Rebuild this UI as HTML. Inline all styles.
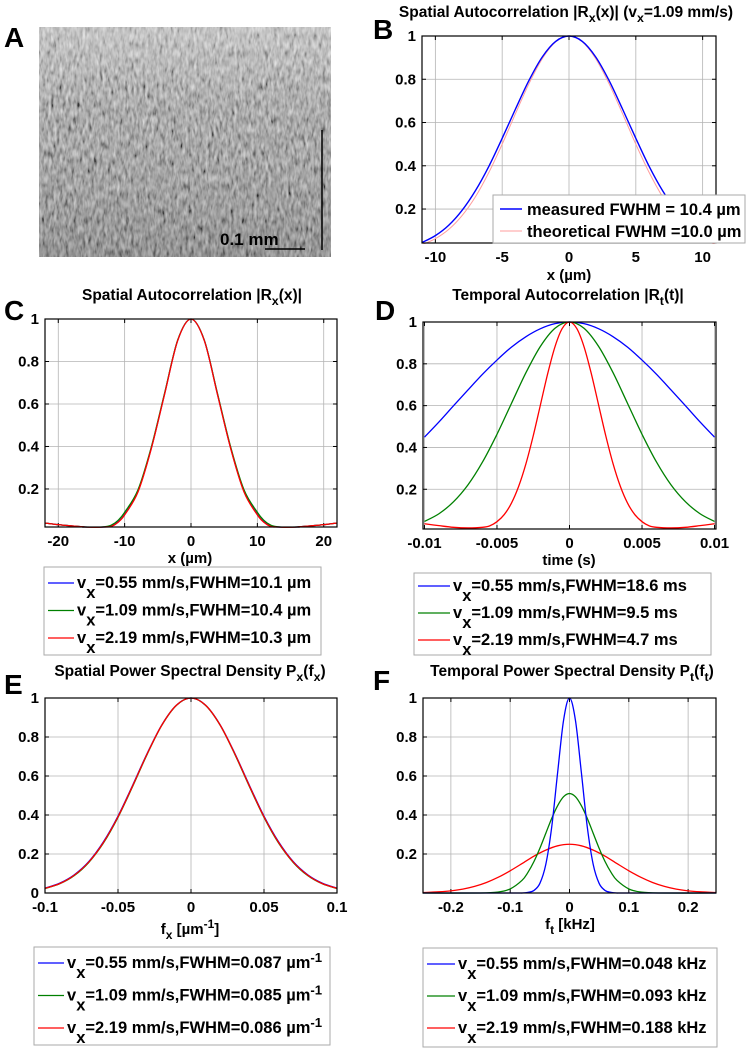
<!DOCTYPE html>
<html><head><meta charset="utf-8">
<style>
html,body{margin:0;padding:0;background:#fff;}
svg{display:block;font-family:"Liberation Sans",Arial,sans-serif;}
.tk{font-size:15px;font-weight:bold;fill:#000;}
.tt{font-size:15.5px;font-weight:bold;fill:#000;}
.lg{font-size:16.5px;font-weight:bold;fill:#000;}
.pl{font-size:28px;font-weight:bold;fill:#000;}
</style></head>
<body>
<svg id="fig" width="750" height="1050" viewBox="0 0 750 1050" xmlns="http://www.w3.org/2000/svg">
<defs>
<filter id="speck" x="0" y="0" width="100%" height="100%">
<feTurbulence type="fractalNoise" baseFrequency="0.35 0.12" numOctaves="2" seed="7" result="n"/>
<feColorMatrix type="matrix" values="0.33 0.33 0.33 0 0  0.33 0.33 0.33 0 0  0.33 0.33 0.33 0 0  0 0 0 0 1" result="g"/>
<feComponentTransfer><feFuncR type="linear" slope="2.2" intercept="-0.6"/><feFuncG type="linear" slope="2.2" intercept="-0.6"/><feFuncB type="linear" slope="2.2" intercept="-0.6"/></feComponentTransfer>
</filter>
<linearGradient id="fade" x1="0" y1="0" x2="0" y2="1">
<stop offset="0" stop-color="#fff" stop-opacity="0.35"/>
<stop offset="0.35" stop-color="#fff" stop-opacity="0.06"/>
<stop offset="1" stop-color="#000" stop-opacity="0.12"/>
</linearGradient>
</defs>
<g>
<rect x="39" y="27" width="292" height="230" fill="#7a7a7a"/>
<rect x="39" y="27" width="292" height="230" filter="url(#speck)" opacity="0.7"/>
<rect x="39" y="27" width="292" height="230" fill="url(#fade)"/>
<line x1="322" y1="130" x2="322" y2="250" stroke="#000" stroke-width="1.5"/>
<line x1="265" y1="249" x2="305" y2="249" stroke="#000" stroke-width="1.5"/>
<text x="220" y="245" style="font-size:17px;font-weight:bold">0.1 mm</text>
</g>
<text class="pl" x="4" y="47">A</text>
<text class="pl" x="373" y="39">B</text>
<text class="pl" x="4" y="320">C</text>
<text class="pl" x="375" y="320">D</text>
<text class="pl" x="4" y="694">E</text>
<text class="pl" x="373" y="690">F</text>
</svg>
<script>
// ---- Panel B data ----
const bX = [-11,-10,-9,-8,-7,-6,-5,-4,-3,-2,-1,0,1,2,3,4,5,6,7,8,9,10,11];
const bMeasured = [0.045,0.077,0.125,0.194,0.285,0.397,0.527,0.663,0.794,0.903,0.975,1,0.975,0.903,0.794,0.663,0.527,0.397,0.285,0.194,0.125,0.077,0.045];
const bTheory = [0.035,0.063,0.106,0.170,0.257,0.369,0.500,0.642,0.779,0.895,0.973,1,0.973,0.895,0.779,0.642,0.500,0.369,0.257,0.170,0.106,0.063,0.035];
// ---- Panel C data ----
const cX = [-22,-20,-18,-16,-14,-13,-12,-11,-10,-8,-6,-4,-2,0,2,4,6,8,10,11,12,13,14,16,18,20,22];
const cBlue = [0.040,0.032,0.026,0.021,0.020,0.021,0.025,0.045,0.080,0.188,0.390,0.645,0.900,1,0.900,0.645,0.390,0.188,0.080,0.045,0.025,0.021,0.020,0.021,0.026,0.032,0.040];
const cGreen = [0.040,0.032,0.026,0.021,0.020,0.022,0.030,0.052,0.090,0.195,0.395,0.648,0.901,1,0.901,0.648,0.395,0.195,0.090,0.052,0.030,0.022,0.020,0.021,0.026,0.032,0.040];
const cRed = [0.040,0.032,0.026,0.021,0.020,0.021,0.024,0.043,0.078,0.185,0.388,0.643,0.899,1,0.899,0.643,0.388,0.185,0.078,0.043,0.024,0.021,0.020,0.021,0.026,0.032,0.040];
// ---- Panel D data ----
const dX1 = [-0.01,-0.009,-0.008,-0.007,-0.006,-0.005,-0.004,-0.003,-0.002,-0.001,0,0.001,0.002,0.003,0.004,0.005,0.006,0.007,0.008,0.009,0.01];
const dBlue = [0.449,0.522,0.599,0.675,0.750,0.818,0.880,0.930,0.968,0.992,1,0.992,0.968,0.930,0.880,0.818,0.750,0.675,0.599,0.522,0.449];
const dGreen = [0.046,0.083,0.140,0.221,0.330,0.463,0.611,0.758,0.884,0.970,1,0.970,0.884,0.758,0.611,0.463,0.330,0.221,0.140,0.083,0.046];
const dX2 = [-0.01,-0.009,-0.008,-0.007,-0.006,-0.0055,-0.005,-0.0045,-0.004,-0.0035,-0.003,-0.0025,-0.002,-0.0015,-0.001,-0.0005,0,0.0005,0.001,0.0015,0.002,0.0025,0.003,0.0035,0.004,0.0045,0.005,0.0055,0.006,0.007,0.008,0.009,0.01];
const dRed = [0.035,0.026,0.018,0.015,0.018,0.025,0.045,0.079,0.134,0.215,0.323,0.456,0.605,0.754,0.882,0.969,1,0.969,0.882,0.754,0.605,0.456,0.323,0.215,0.134,0.079,0.045,0.025,0.018,0.015,0.018,0.026,0.035];
// ---- Panel E data ----
const eX = [-0.1,-0.09,-0.08,-0.07,-0.06,-0.05,-0.04,-0.03,-0.02,-0.01,0,0.01,0.02,0.03,0.04,0.05,0.06,0.07,0.08,0.09,0.1];
const eBlue = [0.025,0.050,0.093,0.161,0.262,0.394,0.552,0.716,0.862,0.963,1,0.963,0.862,0.716,0.552,0.394,0.262,0.161,0.093,0.050,0.025];
const eGreen = [0.023,0.047,0.089,0.157,0.256,0.388,0.546,0.712,0.860,0.962,1,0.962,0.860,0.712,0.546,0.388,0.256,0.157,0.089,0.047,0.023];
const eRed = [0.024,0.048,0.091,0.159,0.259,0.391,0.549,0.714,0.861,0.963,1,0.963,0.861,0.714,0.549,0.391,0.259,0.159,0.091,0.048,0.024];
// ---- Panel F data ----
const fXb = [-0.25,-0.1,-0.08,-0.07,-0.06,-0.05,-0.04,-0.03,-0.02,-0.01,0,0.01,0.02,0.03,0.04,0.05,0.06,0.07,0.08,0.1,0.25];
const fBlue = [0,0,0,0.003,0.013,0.049,0.146,0.338,0.618,0.886,1,0.886,0.618,0.338,0.146,0.049,0.013,0.003,0,0,0];
const fXg = [-0.25,-0.15,-0.12,-0.1,-0.08,-0.07,-0.06,-0.05,-0.04,-0.03,-0.02,-0.01,0,0.01,0.02,0.03,0.04,0.05,0.06,0.07,0.08,0.1,0.12,0.15,0.25];
const fGreen = [0,0,0.005,0.021,0.065,0.106,0.161,0.229,0.306,0.383,0.448,0.494,0.51,0.494,0.448,0.383,0.306,0.229,0.161,0.106,0.065,0.021,0.005,0,0];
const fXr = [-0.25,-0.22,-0.2,-0.18,-0.16,-0.14,-0.12,-0.1,-0.08,-0.06,-0.04,-0.02,0,0.02,0.04,0.06,0.08,0.1,0.12,0.14,0.16,0.18,0.2,0.22,0.25];
const fRed = [0.002,0.006,0.011,0.020,0.034,0.054,0.081,0.114,0.151,0.189,0.220,0.242,0.25,0.242,0.220,0.189,0.151,0.114,0.081,0.054,0.034,0.020,0.011,0.006,0.002];
// ---- tick labels ----
const yTicks = [0.2,0.4,0.6,0.8,1];
const yTicksE = [0,0.2,0.4,0.6,0.8,1];
const bXTicks = [-10,-5,0,5,10];
const cXTicks = [-20,-10,0,10,20];
const dXTicks = [-0.01,-0.005,0,0.005,0.01];
const dXLabels = ['-0.01','-0.005','0','0.005','0.01'];
const eXTicks = [-0.1,-0.05,0,0.05,0.1];
const eXLabels = ['-0.1','-0.05','0','0.05','0.1'];
const fXTicks = [-0.2,-0.1,0,0.1,0.2];
const fXLabels = ['-0.2','-0.1','0','0.1','0.2'];

const NS='http://www.w3.org/2000/svg';
const fig=document.getElementById('fig');
function mk(tag,attrs,parent){const e=document.createElementNS(NS,tag);for(const k in attrs)e.setAttribute(k,attrs[k]);(parent||fig).appendChild(e);return e;}

function smoothPath(pts){
  let d='M'+pts[0][0].toFixed(2)+','+pts[0][1].toFixed(2);
  for(let i=0;i<pts.length-1;i++){
    const p0=pts[Math.max(0,i-1)],p1=pts[i],p2=pts[i+1],p3=pts[Math.min(pts.length-1,i+2)];
    const c1x=p1[0]+(p2[0]-p0[0])/6,c1y=p1[1]+(p2[1]-p0[1])/6;
    const c2x=p2[0]-(p3[0]-p1[0])/6,c2y=p2[1]-(p3[1]-p1[1])/6;
    d+=' C'+c1x.toFixed(2)+','+c1y.toFixed(2)+' '+c2x.toFixed(2)+','+c2y.toFixed(2)+' '+p2[0].toFixed(2)+','+p2[1].toFixed(2);
  }
  return d;
}

function plot(c){
  const g=mk('g',{});
  
  
  const sx=v=>c.L+(v-c.x0)/(c.x1-c.x0)*(c.R-c.L);
  const sy=v=>c.B-(v-c.y0)/(c.y1-c.y0)*(c.B-c.T);
  mk('rect',{x:c.L,y:c.T,width:c.R-c.L,height:c.B-c.T,fill:'#fff'},g);
  c.xt.forEach((v,i)=>{
    const x=sx(v);
    const gl=mk('line',{x1:x,y1:c.T,x2:x,y2:c.B,stroke:'#b4b4b4','stroke-width':0.8},g);
    
    
    mk('line',{x1:x,y1:c.B,x2:x,y2:c.B-4,stroke:'#000'},g);
    mk('line',{x1:x,y1:c.T,x2:x,y2:c.T+4,stroke:'#000'},g);
    const t=mk('text',{x:x,y:c.B+19,'text-anchor':'middle',class:'tk'},g);
    t.textContent=c.xl?c.xl[i]:String(v);
    
    
  });
  c.yt.forEach(v=>{
    const y=sy(v);
    const gl=mk('line',{x1:c.L,y1:y,x2:c.R,y2:y,stroke:'#b4b4b4','stroke-width':0.8},g);
    
    
    mk('line',{x1:c.L,y1:y,x2:c.L+4,y2:y,stroke:'#000'},g);
    mk('line',{x1:c.R,y1:y,x2:c.R-4,y2:y,stroke:'#000'},g);
    const t=mk('text',{x:c.L-6,y:y+5,'text-anchor':'end',class:'tk'},g);
    t.textContent=String(v);
    
    
  });
  const clipId='clip'+c.name;
  const cp=mk('clipPath',{id:clipId},g);
  mk('rect',{x:c.L,y:c.T-1,width:c.R-c.L,height:c.B-c.T+2},cp);
  c.series.forEach(s=>{
    const pts=s.xs.map((v,i)=>[sx(v),sy(s.ys[i])]);
    const p=mk('path',{d:smoothPath(pts),fill:'none',stroke:s.color,'stroke-width':s.w||1.3,'clip-path':'url(#'+clipId+')'},g);
    
    
  });
  const fr=mk('rect',{x:c.L,y:c.T,width:c.R-c.L,height:c.B-c.T,fill:'none',stroke:'#000','stroke-width':1.2},g);
  
  
  return g;
}
function rich(x,y,parts,cls,anchor,name){
  const t=mk('text',{x:x,y:y,class:cls,'text-anchor':anchor||'middle'});
  
  
  parts.forEach(p=>{
    const s=mk('tspan',{},t);
    if(p[1]==='sub'){s.setAttribute('dy','5');s.setAttribute('font-size','0.8em');}
    else if(p[1]==='back'){s.setAttribute('dy','-5');}
    else if(p[1]==='sup'){s.setAttribute('dy','-6');s.setAttribute('font-size','0.8em');}
    else if(p[1]==='down'){s.setAttribute('dy','6');}
    s.textContent=p[0];
  });
  return t;
}
function legend(x,y,w,h,entries,name,rowH,lineW){
  const g=mk('g',{});
  
  
  mk('rect',{x:x,y:y,width:w,height:h,fill:'#fff',stroke:'#aaa','stroke-width':1},g);
  entries.forEach((e,i)=>{
    const cy=y+e.off+i*rowH;
    const l=mk('line',{x1:x+4,y1:cy,x2:x+4+lineW,y2:cy,stroke:e.color,'stroke-width':e.w||1.3},g);
    
    
    const t=mk('text',{x:x+7+lineW,y:cy+5,class:'lg'},g);
    
    
    e.parts.forEach(p=>{
      const s=mk('tspan',{},t);
      if(p[1]==='sub'){s.setAttribute('dy','10');}
      else if(p[1]==='back'){s.setAttribute('dy','-10');}
      else if(p[1]==='sup'){s.setAttribute('dy','-6');s.setAttribute('font-size','0.8em');}
      s.textContent=p[0];
    });
  });
  return g;
}

// Panel B
plot({name:'panel-b-chart',L:422,R:716,T:36,B:243,x0:-11,x1:11,y0:0.043,y1:1,xt:bXTicks,yt:yTicks,
  series:[{name:'theoretical-curve',xs:bX,ys:bTheory,color:'#ff9c9c',w:1},{name:'measured-curve',xs:bX,ys:bMeasured,color:'#0000ff',w:1.4}]});
rich(566,17,[['Spatial Autocorrelation |R'],['x','sub'],['(x)| (v','back'],['x','sub'],['=1.09 mm/s)','back']],'tt','middle','panel-b-title');
rich(569,280,[['x (µm)']],'tk','middle','panel-b-x-axis-title');
{
 legend(493,195,252,48,[],'panel-b-legend',0,0);
 const l1=mk('line',{x1:500,y1:209,x2:522,y2:209,stroke:'#0000ff','stroke-width':1.4});
 
 
 const t1=mk('text',{x:527,y:215,class:'lg'});t1.textContent='measured FWHM = 10.4 µm';
 
 
 const l2=mk('line',{x1:500,y1:231,x2:522,y2:231,stroke:'#ff9c9c','stroke-width':1});
 
 
 const t2=mk('text',{x:527,y:237,class:'lg'});t2.textContent='theoretical FWHM =10.0 µm';
 
 
}

// Panel C
plot({name:'panel-c-chart',L:45,R:337,T:319,B:527,x0:-22,x1:22,y0:0.021,y1:1,xt:cXTicks,yt:yTicks,
  series:[{name:'c-blue-curve',xs:cX,ys:cBlue,color:'#0000ff'},{name:'c-green-curve',xs:cX,ys:cGreen,color:'#008000'},{name:'c-red-curve',xs:cX,ys:cRed,color:'#ff0000'}]});
rich(192,300,[['Spatial Autocorrelation |R'],['x','sub'],['(x)|','back']],'tt','middle','panel-c-title');
rich(190,563,[['x (µm)']],'tk','middle','panel-c-x-axis-title');
legend(44,567,277,88,[
 {off:16,color:'#0000ff',parts:[['v'],['x','sub'],['=0.55 mm/s,FWHM=10.1 µm','back']]},
 {off:16,color:'#008000',parts:[['v'],['x','sub'],['=1.09 mm/s,FWHM=10.4 µm','back']]},
 {off:16,color:'#ff0000',parts:[['v'],['x','sub'],['=2.19 mm/s,FWHM=10.3 µm','back']]}],'panel-c-legend',27.5,26);

// Panel D
plot({name:'panel-d-chart',L:423,R:716,T:322,B:529,x0:-0.0101,x1:0.0101,y0:0.01,y1:1,xt:dXTicks,xl:dXLabels,yt:yTicks,
  series:[{name:'d-blue-curve',xs:dX1,ys:dBlue,color:'#0000ff'},{name:'d-green-curve',xs:dX1,ys:dGreen,color:'#008000'},{name:'d-red-curve',xs:dX2,ys:dRed,color:'#ff0000'}]});
rich(568,300,[['Temporal Autocorrelation |R'],['t','sub'],['(t)|','back']],'tt','middle','panel-d-title');
rich(569,565,[['time (s)']],'tk','middle','panel-d-x-axis-title');
legend(414,573,297,82,[
 {off:13,color:'#0000ff',parts:[['v'],['x','sub'],['=0.55 mm/s,FWHM=18.6 ms','back']]},
 {off:13,color:'#008000',parts:[['v'],['x','sub'],['=1.09 mm/s,FWHM=9.5 ms','back']]},
 {off:13,color:'#ff0000',parts:[['v'],['x','sub'],['=2.19 mm/s,FWHM=4.7 ms','back']]}],'panel-d-legend',27,32);

// Panel E
plot({name:'panel-e-chart',L:45,R:337,T:698,B:893,x0:-0.1,x1:0.1,y0:0,y1:1,xt:eXTicks,xl:eXLabels,yt:yTicksE,
  series:[{name:'e-blue-curve',xs:eX,ys:eBlue,color:'#0000ff'},{name:'e-green-curve',xs:eX,ys:eGreen,color:'#008000'},{name:'e-red-curve',xs:eX,ys:eRed,color:'#ff0000'}]});
rich(190,676,[['Spatial Power Spectral Density P'],['x','sub'],['(f','back'],['x','sub'],[')','back']],'tt','middle','panel-e-title');
rich(190,934,[['f'],['x','sub'],[' [µm','back'],['-1','sup'],[']','down']],'tk','middle','panel-e-x-axis-title');
legend(34,947,296,98,[
 {off:16,color:'#0000ff',parts:[['v'],['x','sub'],['=0.55 mm/s,FWHM=0.087 µm','back'],['-1','sup']]},
 {off:22,color:'#008000',parts:[['v'],['x','sub'],['=1.09 mm/s,FWHM=0.085 µm','back'],['-1','sup']]},
 {off:28,color:'#ff0000',parts:[['v'],['x','sub'],['=2.19 mm/s,FWHM=0.086 µm','back'],['-1','sup']]}],'panel-e-legend',26.5,26);

// Panel F
plot({name:'panel-f-chart',L:423,R:716,T:698,B:893,x0:-0.247,x1:0.247,y0:0,y1:1,xt:fXTicks,xl:fXLabels,yt:yTicks,
  series:[{name:'f-red-curve',xs:fXr,ys:fRed,color:'#ff0000'},{name:'f-green-curve',xs:fXg,ys:fGreen,color:'#008000'},{name:'f-blue-curve',xs:fXb,ys:fBlue,color:'#0000ff'}]});
rich(572,676,[['Temporal Power Spectral Density P'],['t','sub'],['(f','back'],['t','sub'],[')','back']],'tt','middle','panel-f-title');
rich(570,929,[['f'],['t','sub'],[' [kHz]','back']],'tk','middle','panel-f-x-axis-title');
legend(423,948,294,99,[
 {off:16,color:'#0000ff',parts:[['v'],['x','sub'],['=0.55 mm/s,FWHM=0.048 kHz','back']]},
 {off:16,color:'#008000',parts:[['v'],['x','sub'],['=1.09 mm/s,FWHM=0.093 kHz','back']]},
 {off:16,color:'#ff0000',parts:[['v'],['x','sub'],['=2.19 mm/s,FWHM=0.188 kHz','back']]}],'panel-f-legend',32,28);
</script>
</body></html>
